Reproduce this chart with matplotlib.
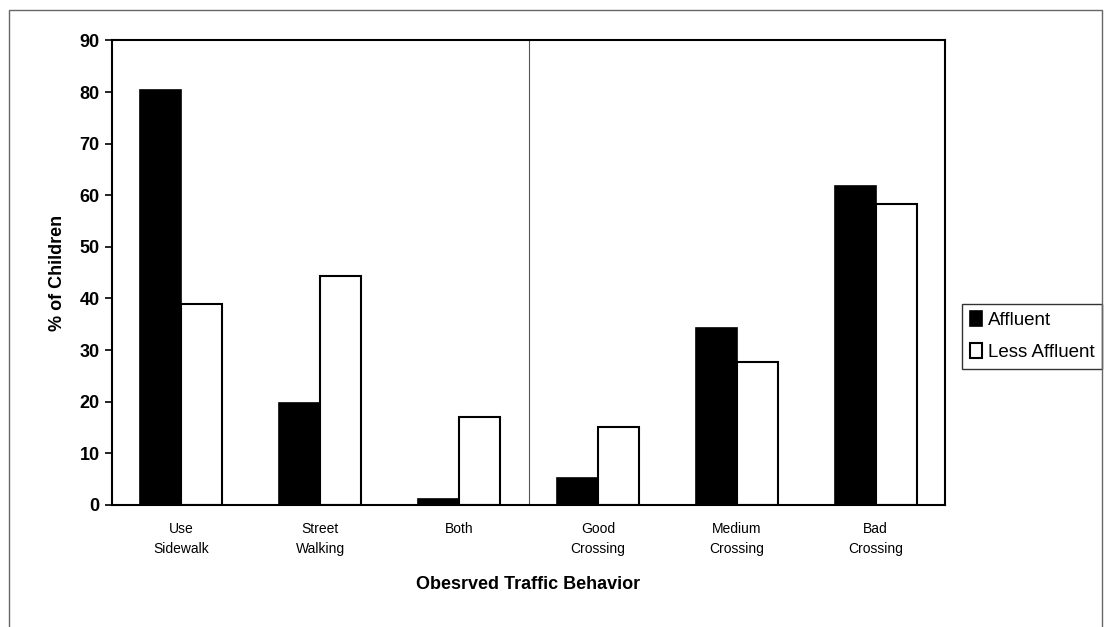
import matplotlib
matplotlib.use("Agg")
import matplotlib.pyplot as plt
import numpy as np

categories = ["Use\nSidewalk", "Street\nWalking", "Both",
              "Good\nCrossing", "Medium\nCrossing", "Bad\nCrossing"]
affluent = [80.3, 19.8, 1.2, 5.2, 34.2, 61.8]
less_affluent = [39.0, 44.4, 17.1, 15.2, 27.7, 58.3]
yticks = [0, 10, 20, 30, 40, 50, 60, 70, 80, 90]

plt.rcParams["font.family"] = ["Liberation Sans", "DejaVu Sans"]

fig = plt.figure(figsize=(11.06, 6.27), dpi=100)
ax = fig.add_axes([0.1013, 0.1946, 0.7531, 0.741])

x = np.arange(len(categories))
w = 0.295
ax.bar(x - w / 2, affluent, w, color="black", edgecolor="black",
       linewidth=1.2, label="Affluent")
ax.bar(x + w / 2, less_affluent, w, color="white", edgecolor="black",
       linewidth=1.5, label="Less Affluent")

# separator between walking and crossing groups
ax.axvline(2.5, color="#555555", linewidth=0.8)

ax.set_xlim(-0.5, len(categories) - 0.5)
ax.set_ylim(0, 90)
ax.set_yticks(yticks)
ax.set_yticklabels([str(t) for t in yticks], fontsize=13, fontweight="bold")
ax.set_xticks(x)
ax.set_xticklabels(categories, fontsize=10, linespacing=1.6)
ax.tick_params(axis="x", length=0, pad=12)
ax.tick_params(axis="y", direction="out", length=5, width=1.2, pad=4)
for sp in ax.spines.values():
    sp.set_linewidth(1.5)

ax.set_ylabel("% of Children", fontsize=13, fontweight="bold", labelpad=10)
ax.set_xlabel("Obesrved Traffic Behavior", fontsize=13, fontweight="bold",
              labelpad=14)

leg = ax.legend(loc="center left", bbox_to_anchor=(1.021, 0.363),
                borderaxespad=0, prop={"size": 13.5},
                frameon=True, fancybox=False, edgecolor="black",
                handlelength=0.65, handleheight=0.85, handletextpad=0.3,
                borderpad=0.4, labelspacing=0.75)
leg.get_frame().set_linewidth(1.0)

# outer frame of the chart area
fig.patches.append(plt.Rectangle((0.008, -0.01), 0.988, 0.994, fill=False,
                                 edgecolor="#666666", linewidth=1.0,
                                 transform=fig.transFigure))

fig.savefig("out.png", dpi=100)
